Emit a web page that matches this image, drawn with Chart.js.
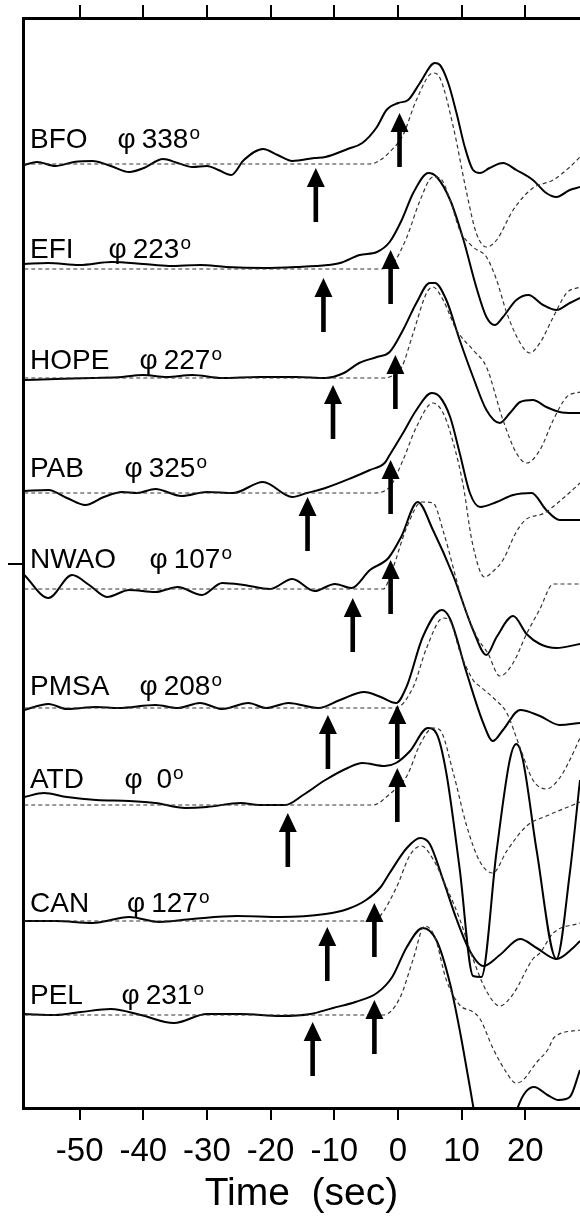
<!DOCTYPE html>
<html>
<head>
<meta charset="utf-8">
<script src="https://cdn.jsdelivr.net/npm/chart.js@4.4.0/dist/chart.umd.min.js"></script>
<style>
  html, body { margin: 0; padding: 0; background: #fff; }
  #wrap { width: 580px; height: 1218px; }
</style>
</head>
<body>
<div id="wrap"><canvas id="seismograms" width="580" height="1218"></canvas></div>
<script>
// station names, back-azimuths and vertical trace offsets
const stations = ['BFO', 'EFI', 'HOPE', 'PAB', 'NWAO', 'PMSA', 'ATD', 'CAN', 'PEL'];
const azimuths = [338, 223, 227, 325, 107, 208, 0, 127, 231];
const traceOffsets = [9.44, 8.39, 7.30, 6.15, 5.19, 4.00, 3.03, 1.87, 0.93];

const xTicks = [-50, -40, -30, -20, -10, 0, 10, 20];
const yTicks = [5.44];

// arrow picks (sec) and the level of each arrow tip relative to its trace
const arrowTimes = [[-12.9, 0.25], [-11.7, -1.15], [-10.2, -0.4], [-14.2, -1.15], [-7.1, -1.15],
                    [-11.0, -0.1], [-17.3, -0.1], [-11.1, -3.7], [-13.4, -3.7]];
const arrowTips = [[-0.04, 0.51], [-0.09, 0.19], [-0.07, 0.23], [-0.04, 0.33], [-0.09, 0.29],
                   [-0.07, 0.03], [-0.08, 0.37], [-0.06, 0.18], [-0.07, 0.15]];

// observed (solid) and synthetic (dashed) traces: [time, amplitude]
const BFO_OBS = [[-58.7,-0.01],[-56.7,0.02],[-53.8,-0.02],[-50.9,0.02],[-48.0,0.03],[-45.1,-0.02],[-42.2,-0.08],[-39.9,-0.04],[-36.9,0.05],[-34.6,0.01],[-32.3,-0.03],[-30.0,-0.02],[-28.2,-0.06],[-26.2,-0.11],[-24.2,0.04],[-21.2,0.15],[-18.9,0.09],[-16.6,0.03],[-13.1,0.06],[-11.4,0.07],[-7.9,0.15],[-5.6,0.21],[-3.3,0.37],[-1.8,0.54],[0.05,0.61],[1.6,0.64],[3.45,0.81],[5.8,1.01],[6.6,0.99],[7.9,0.81],[9.2,0.51],[10.5,0.17],[11.8,-0.06],[12.9,-0.09],[14.4,-0.04],[16.5,0.01],[18.6,-0.06],[21.2,-0.16],[23.3,-0.29],[24.9,-0.33],[27.0,-0.26],[28.6,-0.23]];
const BFO_SYN = [[-58.7,0],[-4.4,0],[-3.0,0.03],[-1.3,0.12],[0.8,0.29],[2.9,0.64],[5.5,0.91],[6.6,0.86],[8.7,0.37],[10.8,-0.29],[12.3,-0.69],[13.9,-0.83],[15.5,-0.76],[18.1,-0.46],[21.2,-0.24],[24.4,-0.16],[27.0,-0.03],[28.6,0.07]];

const EFI_OBS = [[-58.7,0.05],[-55,0.06],[-50,0.04],[-45,0.07],[-40,0.05],[-36,0.03],[-31,0.04],[-27,0.02],[-21,0.01],[-16,0.02],[-11,0.04],[-9.1,0.06],[-6.0,0.14],[-3.3,0.17],[-1.3,0.27],[0.6,0.49],[2.4,0.76],[4.8,0.96],[6.1,0.92],[8.2,0.69],[10.3,0.29],[12.3,-0.18],[13.9,-0.48],[15.2,-0.56],[16.5,-0.48],[18.6,-0.31],[20.5,-0.26],[22.8,-0.36],[24.9,-0.41],[27.0,-0.34],[28.6,-0.29]];
const EFI_SYN = [[-58.7,0],[-2.8,0],[-0.7,0.06],[1.4,0.32],[3.5,0.69],[5.5,0.92],[6.6,0.91],[8.2,0.69],[9.7,0.39],[11.8,0.22],[13.9,0.12],[15.5,-0.11],[17.1,-0.44],[19.2,-0.74],[20.7,-0.84],[22.3,-0.74],[24.4,-0.48],[26.5,-0.24],[28.6,-0.18]];

const HOPE_OBS = [[-58.7,-0.02],[-53.8,-0.01],[-48,0],[-43.3,0.01],[-40.1,0.03],[-36.3,0.01],[-32.3,0.03],[-27.6,0],[-21.8,0.01],[-16,0.01],[-11.4,0],[-8.5,0.05],[-6.1,0.15],[-3.3,0.21],[-1.3,0.26],[0.8,0.48],[2.9,0.75],[5.0,0.95],[5.8,0.95],[7.6,0.78],[9.7,0.38],[11.8,0.01],[13.9,-0.32],[16.0,-0.45],[17.6,-0.35],[19.2,-0.24],[21.2,-0.22],[23.3,-0.29],[25.4,-0.34],[27.5,-0.35],[28.6,-0.35]];
const HOPE_SYN = [[-58.7,0],[-2,0],[-1.3,0.01],[0.6,0.11],[2.4,0.45],[4.5,0.85],[5.5,0.91],[7.1,0.78],[9.2,0.48],[11.8,0.28],[13.9,0.11],[16.5,-0.42],[18.6,-0.75],[20.2,-0.85],[22.3,-0.72],[24.4,-0.42],[26.5,-0.19],[28.6,-0.14]];

const PAB_OBS = [[-58.7,0.02],[-54.9,0.03],[-52,-0.05],[-49.1,-0.12],[-46.2,-0.04],[-43.3,0.01],[-41,0],[-38.1,0.04],[-34,-0.03],[-30,0.01],[-25.9,0],[-21.2,0.11],[-16.6,-0.04],[-14.3,0],[-11.4,0.05],[-7.3,0.15],[-4.4,0.23],[-2.1,0.30],[-1.3,0.38],[0.8,0.60],[2.9,0.83],[5.3,1.00],[6.6,0.96],[8.2,0.76],[9.7,0.40],[11.3,0],[12.9,-0.14],[15.5,-0.09],[18.1,-0.02],[21.0,0],[23.3,-0.17],[25.4,-0.27],[28.6,-0.27]];
const PAB_SYN = [[-58.7,0],[-3.9,0],[-1.3,0.06],[0.8,0.33],[2.9,0.66],[5.5,0.90],[7.1,0.80],[8.7,0.50],[10.3,0.06],[11.6,-0.47],[13.6,-0.84],[15.0,-0.78],[16.5,-0.67],[18.5,-0.40],[20,-0.27],[23,-0.20],[26,-0.05],[28.6,0.10]];

const NWAO_OBS = [[-58.7,0.14],[-54.9,-0.09],[-51.2,0.14],[-48.5,0.04],[-45.7,-0.08],[-42.2,-0.01],[-38.1,-0.03],[-34.6,0.02],[-30.8,-0.06],[-27.6,0.06],[-24.2,0.04],[-20.1,0],[-16.6,0.10],[-13.1,-0.02],[-9.9,0.05],[-7.3,0.01],[-4.4,0.19],[-1.5,0.31],[0.5,0.52],[3.1,0.87],[5.5,0.59],[8.7,0.13],[11.8,-0.41],[13.9,-0.66],[15.5,-0.48],[18.1,-0.27],[20.2,-0.45],[22.3,-0.55],[24.9,-0.59],[28.6,-0.55]];
const NWAO_SYN = [[-58.7,0],[-2.3,0],[-0.9,0.19],[1.4,0.62],[3.7,0.87],[5.5,0.86],[7.2,0.56],[10.1,-0.11],[12.4,-0.48],[14.1,-0.64],[16.0,-0.87],[18,-0.75],[20.2,-0.45],[22.3,-0.20],[24.4,0.05],[28.6,0.05]];

const PMSA_OBS = [[-58.7,-0.02],[-54.9,0.04],[-52,-0.01],[-47.4,0.01],[-43.9,0],[-38.1,0.03],[-34.6,0],[-31.1,0.05],[-27.6,-0.01],[-23.5,0.05],[-20.7,0],[-17.2,0.05],[-12.5,0],[-9.1,0.08],[-5.3,0.16],[-2.7,0.11],[-0.3,0.05],[1.4,0.22],[3.9,0.71],[6.9,0.98],[8.2,0.89],[10.8,0.35],[13.4,-0.15],[14.9,-0.33],[16.5,-0.22],[19.2,-0.02],[22.3,-0.08],[25.4,-0.17],[28.6,-0.15]];
const PMSA_SYN = [[-58.7,0],[-0.4,0],[2.4,0.21],[4.5,0.60],[7.1,0.90],[8.2,0.87],[9.7,0.57],[11.8,0.28],[13,0.21],[15,0.10],[17.1,-0.05],[19.2,-0.40],[21.2,-0.72],[23.3,-0.81],[25.4,-0.70],[27,-0.52],[28.6,-0.30]];

const ATD_OBS = [[-58.7,0.08],[-55.6,0.12],[-52,0.08],[-47.4,0.05],[-42.2,0.04],[-38.1,0.02],[-33.4,-0.03],[-30,-0.02],[-24.7,0.02],[-21.8,0],[-17.7,0],[-14.9,0.10],[-11.4,0.25],[-7.9,0.37],[-5.6,0.42],[-2.1,0.39],[-0.3,0.42],[1.9,0.54],[4.7,0.77],[6.1,0.71],[7.6,0.32],[9.7,-0.64],[11.8,-1.71],[13.1,-1.72],[15.5,-0.46],[17.6,0.46],[18.6,0.61],[19.6,0.46],[21.8,-0.46],[24.9,-1.54],[27,-0.68],[28.6,0.25]];
const ATD_SYN = [[-58.7,0],[-3.9,0],[-1.3,0.11],[1.4,0.29],[3.5,0.61],[5.5,0.77],[6.6,0.75],[8.7,0.32],[10.8,-0.21],[12.9,-0.57],[14.9,-0.68],[17.1,-0.46],[20.2,-0.21],[23.3,-0.11],[27.5,0],[28.6,0.03]];

const CAN_OBS = [[-58.7,0],[-53.8,0],[-48,-0.02],[-42.2,0.04],[-37.5,-0.01],[-32.3,0.02],[-25.3,0.05],[-18.4,0.04],[-11.4,0.07],[-7.9,0.12],[-5,0.21],[-2.7,0.34],[-1.3,0.48],[1.4,0.73],[3.5,0.83],[5,0.77],[7.1,0.41],[9.2,0.02],[11.3,-0.30],[13.4,-0.45],[16,-0.34],[19.2,-0.18],[21.8,-0.27],[24.9,-0.38],[27.5,-0.27],[28.6,-0.20]];
const CAN_SYN = [[-58.7,0],[-4,0],[-2.8,0.05],[-0.2,0.34],[1.9,0.66],[3.7,0.75],[5.5,0.62],[7.6,0.34],[9.7,0.02],[11.8,-0.38],[13.9,-0.70],[16,-0.85],[18.1,-0.73],[21.2,-0.38],[22.3,-0.32],[24.4,-0.12],[28.6,-0.02]];

const PEL_OBS = [[-58.7,0.01],[-53.8,0],[-49.8,0.03],[-45.1,0.06],[-40.4,0],[-35.2,-0.08],[-30,0.01],[-24.7,0.01],[-18.4,-0.01],[-13.7,0.01],[-10.2,0.07],[-6.7,0.13],[-3.3,0.22],[-0.9,0.38],[1.4,0.68],[3.9,0.87],[6.1,0.74],[8.2,0.31],[9.7,-0.15],[11.3,-0.72],[12.5,-1.15],[15,-1.7],[17.5,-1.3],[18.8,-0.93],[21.4,-0.72],[23.5,-0.80],[25.2,-0.85],[27,-0.82],[28.6,-0.55]];
const PEL_SYN = [[-58.7,0],[-2.3,0],[0.3,0.17],[2.4,0.56],[4.2,0.89],[5.8,0.78],[7.6,0.35],[9.7,0.10],[11.8,0.03],[12.9,-0.04],[14.9,-0.33],[17.1,-0.58],[18.5,-0.68],[19.5,-0.66],[21.7,-0.48],[23.5,-0.35],[24.6,-0.22],[28.6,-0.15]];

const observed = [BFO_OBS, EFI_OBS, HOPE_OBS, PAB_OBS, NWAO_OBS, PMSA_OBS, ATD_OBS, CAN_OBS, PEL_OBS];
const synthetic = [BFO_SYN, EFI_SYN, HOPE_SYN, PAB_SYN, NWAO_SYN, PMSA_SYN, ATD_SYN, CAN_SYN, PEL_SYN];

// layout of the station labels and arrows
const X_MIN = -58.9, X_MAX = 28.6, Y_MAX = 10.9;
const LABEL_LIFT = [0.157, 0.11, 0.09, 0.16, 0.21, 0.13, 0.17, 0.09, 0.11];
const PHI_X = [126.7, 117.7, 148.7, 133.7, 158.7, 148.7, 133.7, 136.2, 130.7];
const ARROW_LEN = 0.54;
const FONT = '"Liberation Sans", Arial, sans-serif';

const datasets = [];
stations.forEach((name, i) => {
    const off = traceOffsets[i];
    datasets.push({
        label: name + ' synthetic',
        data: synthetic[i].map(([t, a]) => ({ x: t, y: off + a })),
        borderColor: '#333',
        borderWidth: 1.2,
        borderDash: [4, 3],
        xAxisID: 'x', yAxisID: 'y',
        clip: 0
    });
    datasets.push({
        label: name + ' observed',
        data: observed[i].map(([t, a]) => ({ x: t, y: off + a })),
        borderColor: '#000',
        borderWidth: 2,
        xAxisID: 'x', yAxisID: 'y',
        clip: 0
    });
});

function drawArrow(ctx, x, yTip, yTail) {
    const headLen = 19, headHalf = 9, shaft = 2.3;
    ctx.beginPath();
    ctx.moveTo(x, yTip);
    ctx.lineTo(x + headHalf, yTip + headLen);
    ctx.lineTo(x + shaft, yTip + headLen);
    ctx.lineTo(x + shaft, yTail);
    ctx.lineTo(x - shaft, yTail);
    ctx.lineTo(x - shaft, yTip + headLen);
    ctx.lineTo(x - headHalf, yTip + headLen);
    ctx.closePath();
    ctx.fill();
}

// arrows and "NAME  phi NNN°" labels
const stationMarks = {
    id: 'stationMarks',
    afterDatasetsDraw(chart) {
        const ctx = chart.ctx;
        const xs = chart.scales.x, ys = chart.scales.y;
        ctx.save();
        ctx.fillStyle = '#000';
        stations.forEach((name, i) => {
            const off = traceOffsets[i];
            arrowTimes[i].forEach((t, k) => {
                const tip = off + arrowTips[i][k];
                drawArrow(ctx, xs.getPixelForValue(t), ys.getPixelForValue(tip), ys.getPixelForValue(tip - ARROW_LEN));
            });

            const y = ys.getPixelForValue(off + LABEL_LIFT[i]);
            ctx.textBaseline = 'alphabetic';
            ctx.font = '28px ' + FONT;
            ctx.textAlign = 'left';
            ctx.fillText(name, 30, y);
            ctx.textAlign = 'center';
            ctx.fillText('\u03c6', PHI_X[i], y);
            ctx.textAlign = 'left';
            const num = String(azimuths[i]).padStart(2, ' ');
            const nx = PHI_X[i] + 15;
            ctx.fillText(num, nx, y);
            const w = ctx.measureText(num).width;
            ctx.font = '19px ' + FONT;
            ctx.fillText('o', nx + w + 1, y - 9);
        });
        ctx.restore();
    }
};

new Chart(document.getElementById('seismograms'), {
    type: 'line',
    data: { datasets },
    options: {
        responsive: false,
        animation: false,
        devicePixelRatio: 1,
        layout: { padding: 0 },
        plugins: { legend: { display: false }, tooltip: { enabled: false } },
        elements: {
            point: { radius: 0 },
            line: { cubicInterpolationMode: 'monotone' }
        },
        scales: {
            x: {
                type: 'linear', position: 'bottom', min: X_MIN, max: X_MAX,
                afterBuildTicks: s => { s.ticks = xTicks.map(v => ({ value: v })); },
                afterFit: s => { s.height = 110; },
                ticks: { color: '#000', font: { family: FONT, size: 33 }, padding: 12, maxRotation: 0, autoSkip: false },
                grid: { drawOnChartArea: false, tickLength: 12, lineWidth: 2, color: '#000' },
                border: { width: 3, color: '#000' },
                title: { display: true, text: 'Time  (sec)', color: '#000', font: { family: FONT, size: 39 }, padding: 0 }
            },
            xTop: {
                type: 'linear', position: 'top', min: X_MIN, max: X_MAX,
                afterBuildTicks: s => { s.ticks = xTicks.map(v => ({ value: v })); },
                afterFit: s => { s.height = 18; },
                ticks: { display: false },
                grid: { drawOnChartArea: false, tickLength: 13, lineWidth: 2, color: '#000' },
                border: { width: 3, color: '#000' }
            },
            y: {
                type: 'linear', position: 'left', min: 0, max: Y_MAX,
                afterBuildTicks: s => { s.ticks = yTicks.map(v => ({ value: v })); },
                afterFit: s => { s.width = 23; },
                ticks: { display: false },
                grid: { drawOnChartArea: false, tickLength: 15, lineWidth: 2, color: '#000' },
                border: { width: 3, color: '#000' }
            }
        }
    },
    plugins: [stationMarks]
});
</script>
</body>
</html>
